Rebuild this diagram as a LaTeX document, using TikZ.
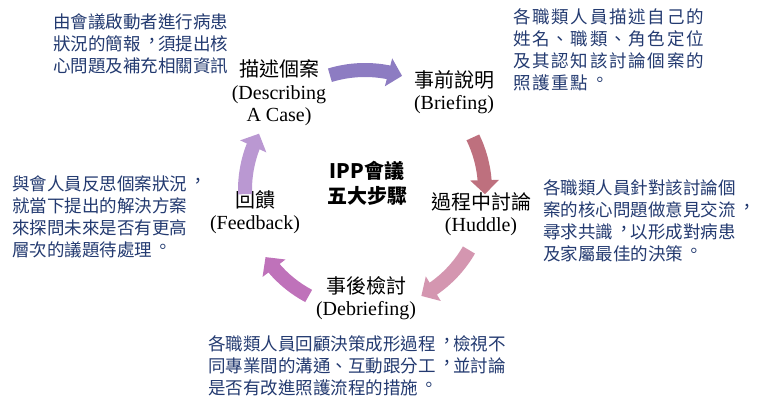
\documentclass[tikz,border=0pt]{standalone}
\usepackage{fontspec}
\setmainfont{Liberation Serif}
\newfontfamily\cjk{Noto Sans CJK TC}
\newcommand\zhp[1]{\makebox[1em][l]{\hspace{.15em}\raisebox{.2em}{\makebox[.85em][l]{#1}}}}
\usetikzlibrary{arrows.meta,bending,calc}
\definecolor{notecol}{RGB}{35,58,112}
\definecolor{arrowa}{RGB}{141,124,194}
\definecolor{arrowb}{RGB}{190,112,126}
\definecolor{arrowc}{RGB}{212,150,176}
\definecolor{arrowd}{RGB}{191,114,186}
\definecolor{arrowe}{RGB}{186,152,210}
\begin{document}
\begin{tikzpicture}[x=1pt, y=-1pt, stage/.style = {align=center, inner sep=0, font=\fontsize{20}{22.5}\selectfont}, note/.style = {align=left, anchor=west, inner sep=0, text=notecol, font=\cjk\fontsize{17.5}{22}\selectfont}, cyc/.style = {line width=14pt, -{Triangle[width=28pt,length=14pt,flex]}}]
	\useasboundingbox (0,0) rectangle (768,411);
	\coordinate (hub) at (365,190);
	\node[stage] (desc) at (279,93) {{\cjk 描述個案}\\(Describing\\A Case)};
	\node[stage] (brief) at (454,92) {{\cjk 事前說明}\\(Briefing)};
	\node[stage] (huddle) at (481,214) {{\cjk 過程中討論}\\(Huddle)};
	\node[stage] (debrief) at (366,298) {{\cjk 事後檢討}\\(Debriefing)};
	\node[stage] (feed) at (255,212) {{\cjk 回饋}\\(Feedback)};
	\node[stage, font=\cjk\bfseries\fontsize{20}{25}\selectfont] (title) at (367,183) {IPP會議\\五大步驟};
	\node[note] (descnote) at (53,44) {由會議啟動者進行病患\\狀況的簡報\zhp{，}須提出核\\心問題及補充相關資訊};
	\node[note, font=\cjk\addfontfeature{LetterSpace=10}\fontsize{17.5}{22}\selectfont] (briefnote) at (513,50) {各職類人員描述自己的\\姓名、職類、角色定位\\及其認知該討論個案的\\照護重點\zhp{。}};
	\node[note] (huddlenote) at (543,221) {各職類人員針對該討論個\\案的核心問題做意見交流\zhp{，}\\尋求共識\zhp{，}以形成對病患\\及家屬最佳的決策\zhp{。}};
	\node[note] (debriefnote) at (208,366) {各職類人員回顧決策成形過程\zhp{，}檢視不\\同專業間的溝通、互動跟分工\zhp{，}並討論\\是否有改進照護流程的措施\zhp{。}};
	\node[note] (feednote) at (12,217) {與會人員反思個案狀況\zhp{，}\\就當下提出的解決方案\\來探問未來是否有更高\\層次的議題待處理\zhp{。}};
	\coordinate (ab) at ($(hub)+(-107:120)$);
	\coordinate (bh) at ($(hub)+(-26:120)$);
	\coordinate (hd) at ($(hub)+(30:120)$);
	\coordinate (df) at ($(hub)+(118:120)$);
	\coordinate (fa) at ($(hub)+(-182:120)$);
	\draw[cyc, arrowa] (ab) arc[start angle=-107, end angle=-72, radius=120];
	\draw[cyc, arrowb] (bh) arc[start angle=-26, end angle=2, radius=120];
	\draw[cyc, arrowc] (hd) arc[start angle=30, end angle=62, radius=120];
	\draw[cyc, arrowd] (df) arc[start angle=118, end angle=146, radius=120];
	\draw[cyc, arrowe] (fa) arc[start angle=-182, end angle=-152, radius=120];
\end{tikzpicture}
\end{document}
